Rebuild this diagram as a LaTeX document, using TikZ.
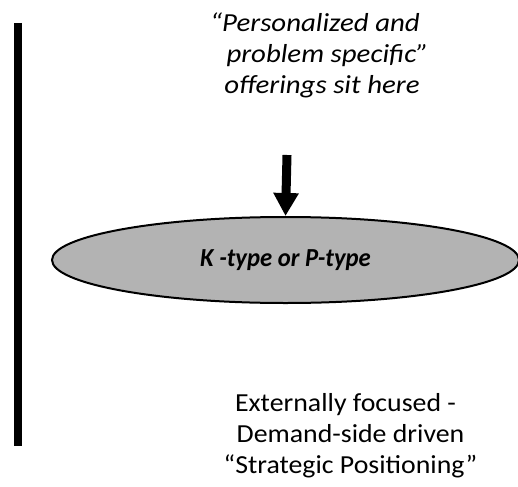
\documentclass[tikz,border=0pt]{standalone}
\usepackage{fontspec}
\setmainfont{Carlito}
\newfontfamily\captionfont{Carlito}[FakeStretch=1.07]
\newfontfamily\quotefont{Carlito}[FakeStretch=1.11]
\newfontfamily\ovalfont{Carlito}[FakeStretch=0.95]
\usetikzlibrary{shapes.geometric,arrows.meta}
\definecolor{ovalgray}{RGB}{179,179,179}
\tikzset{
  quoteline/.style={anchor=base,inner sep=0pt,font=\quotefont\fontsize{26}{31}\selectfont\itshape},
  plainline/.style={anchor=base,inner sep=0pt,font=\captionfont\fontsize{26}{31}\selectfont},
  oval/.style={ellipse,draw=black,line width=2pt,fill=ovalgray,inner sep=0pt,
    minimum width=467pt,minimum height=86pt,
    font=\ovalfont\fontsize{26}{31}\selectfont\bfseries\itshape},
  bigarrow/.style={line width=9pt,-{Triangle[width=24pt,length=23pt]}},
  axisbar/.style={line width=8pt}
}
\begin{document}
\begin{tikzpicture}[x=1pt,y=-1pt]
  \useasboundingbox (0,0) rectangle (518,486);
  % left axis bar
  \coordinate (bartop) at (18,23);
  \coordinate (barbot) at (18,446);
  \draw[axisbar] (bartop) -- (barbot);
  % top caption
  \node[quoteline] (q1) at (315,32) {“Personalized and};
  \node[quoteline] (q2) at (327.5,63) {problem specific”};
  \node[quoteline] (q3) at (322,94) {offerings sit here};
  % oval and arrow into it
  \node[oval] (kp) at (285.5,260) {K -type or P-type};
  \coordinate (arrtop) at (287,155);
  \draw[bigarrow] (arrtop) -- (kp.north);
  % bottom caption
  \node[plainline] (b1) at (345.5,411) {Externally focused -};
  \node[plainline] (b2) at (350.5,442) {Demand-side driven};
  \node[plainline] (b3) at (350.5,473) {“Strategic Positioning”};
\end{tikzpicture}
\end{document}
